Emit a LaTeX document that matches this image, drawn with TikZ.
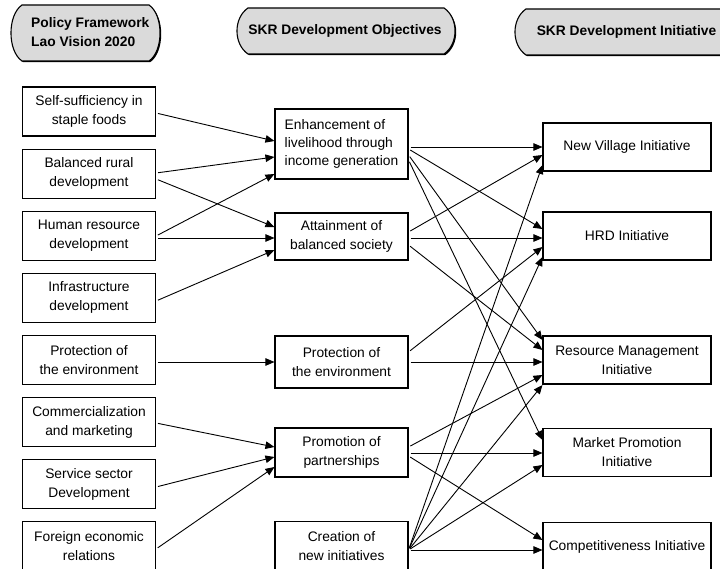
\documentclass[tikz,border=0pt]{standalone}
\usepackage{fontspec}
\setmainfont{Liberation Sans}
\usetikzlibrary{arrows.meta}
\definecolor{hdrfill}{RGB}{218,218,218}
\newcommand\hdrshape[4]{(#1+11,#3) -- (#2-11,#3) .. controls (#2+3.7,#3+10) and (#2+3.7,#4-10) .. (#2-11,#4) -- (#1+11,#4) .. controls (#1-3.7,#4-10) and (#1-3.7,#3+10) .. (#1+11,#3) -- cycle}
\begin{document}
\begin{tikzpicture}[x=1pt,y=-1pt,
  box/.style={draw, line width=1.1pt, align=center, inner sep=0pt,
    font=\fontsize{13.8}{19}\selectfont},
  lbox/.style={box, minimum width=133pt, minimum height=49pt},
  mbox/.style={box, minimum width=133pt},
  rbox/.style={box, minimum width=168pt, minimum height=48pt},
  hdr/.style={draw, line width=1.1pt, fill=hdrfill},
  hdrshadow/.style={fill=black},
  hdrtext/.style={font=\fontsize{13.8}{19}\selectfont\bfseries, inner sep=0pt},
  conn/.style={line width=0.9pt, -{Triangle[length=9pt,width=7.5pt]}, shorten <=2pt}
]
\useasboundingbox (0,0) rectangle (720,569);

% headers
\fill[hdrshadow] [shift={(1.2,1.2)}] \hdrshape{11}{160}{5}{61};
\draw[hdr] \hdrshape{11}{160}{5}{61};
\node[hdrtext, align=left, anchor=west] (H1) at (31,32.5) {Policy Framework\\Lao Vision 2020};
\fill[hdrshadow] [shift={(1.2,1.2)}] \hdrshape{237}{455}{8}{54};
\draw[hdr] \hdrshape{237}{455}{8}{54};
\node[hdrtext] (H2) at (345,31) {SKR Development Objectives};
\fill[hdrshadow] [shift={(1.2,1.2)}] \hdrshape{515}{740}{9}{55};
\draw[hdr] \hdrshape{515}{740}{9}{55};
\node[hdrtext] (H3) at (626.5,32) {SKR Development Initiative};

% left column
\node[lbox] (L1) at (89,111.5) {Self-sufficiency in\\staple foods};
\node[lbox] (L2) at (89,173.6) {Balanced rural\\development};
\node[lbox] (L3) at (89,235.7) {Human resource\\development};
\node[lbox] (L4) at (89,297.8) {Infrastructure\\development};
\node[lbox] (L5) at (89,359.9) {Protection of\\the environment};
\node[lbox] (L6) at (89,422) {Commercialization\\and marketing};
\node[lbox] (L7) at (89,484.1) {Service sector\\Development};
\node[lbox] (L8) at (89,546.2) {Foreign economic\\relations};

% middle column
\node[mbox, minimum height=70pt, align=left, font=\fontsize{13.8}{18}\selectfont] (M1) at (341.5,144) {Enhancement of\\livelihood through\\income generation};
\node[mbox, minimum height=47pt] (M2) at (341.5,236.5) {Attainment of\\balanced society};
\node[mbox, minimum height=52pt] (M3) at (341.5,362) {Protection of\\the environment};
\node[mbox, minimum height=49pt] (M4) at (341.5,452.5) {Promotion of\\partnerships};
\node[mbox, minimum height=50pt] (M5) at (341.5,546.5) {Creation of\\new initiatives};

% right column
\node[rbox] (R1) at (627,147) {New Village Initiative};
\node[rbox] (R2) at (627,236) {HRD Initiative};
\node[rbox] (R3) at (627,360) {Resource Management\\Initiative};
\node[rbox] (R4) at (627,452.5) {Market Promotion\\Initiative};
\node[rbox] (R5) at (627,546.5) {Competitiveness Initiative};

% left -> middle
\draw[conn] (L1.east |- 0,113) -- (M1.west |- 0,141);
\draw[conn] (L2.east |- 0,173) -- (M1.west |- 0,157);
\draw[conn] (L2.east |- 0,179) -- (M2.west |- 0,227);
\draw[conn] (L3.east |- 0,236) -- (M1.west |- 0,174);
\draw[conn] (L3.east |- 0,238) -- (M2.west |- 0,238);
\draw[conn] (L4.east |- 0,301) -- (M2.west |- 0,250);
\draw[conn] (L5.east |- 0,362) -- (M3.west |- 0,362);
\draw[conn] (L6.east |- 0,423) -- (M4.west |- 0,447);
\draw[conn] (L7.east |- 0,487) -- (M4.west |- 0,457);
\draw[conn] (L8.east |- 0,549) -- (M4.west |- 0,467);

% middle -> right
\draw[conn] (M1.east |- 0,147) -- (R1.west |- 0,147);
\draw[conn] (M1.east |- 0,149) -- (R2.west |- 0,229);
\draw[conn] (M1.east |- 0,155) -- (R3.west |- 0,340);
\draw[conn] (M1.east |- 0,160) -- (R4.west |- 0,440);
\draw[conn] (M2.east |- 0,232) -- (R1.west |- 0,155);
\draw[conn] (M2.east |- 0,238) -- (R2.west |- 0,238);
\draw[conn] (M2.east |- 0,245) -- (R3.west |- 0,350);
\draw[conn] (M3.east |- 0,352) -- (R2.west |- 0,247);
\draw[conn] (M3.east |- 0,362) -- (R3.west |- 0,362);
\draw[conn] (M4.east |- 0,447) -- (R3.west |- 0,375);
\draw[conn] (M4.east |- 0,453) -- (R4.west |- 0,453);
\draw[conn] (M4.east |- 0,456) -- (R5.west |- 0,540);
\draw[conn] (M5.east |- 0,550) -- (R1.west |- 0,165);
\draw[conn] (M5.east |- 0,550) -- (R2.west |- 0,257);
\draw[conn] (M5.east |- 0,550) -- (R3.west |- 0,385);
\draw[conn] (M5.east |- 0,550) -- (R4.west |- 0,465);
\draw[conn] (M5.east |- 0,550) -- (R5.west |- 0,550);
\end{tikzpicture}
\end{document}
